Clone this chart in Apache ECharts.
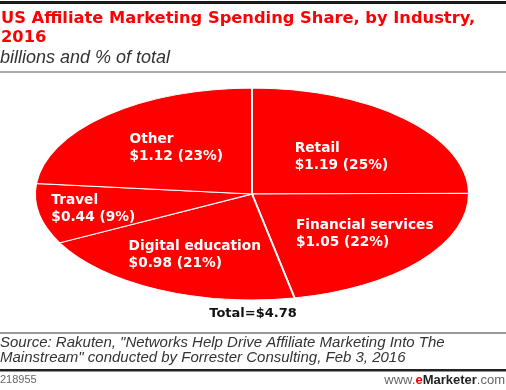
<!DOCTYPE html>
<html><head><meta charset="utf-8">
<script src="https://cdn.jsdelivr.net/npm/echarts@6/dist/echarts.min.js"></script>
<style>html,body{margin:0;padding:0;background:#fff}#c{width:506px;height:390px}</style>
</head><body><div id="c"></div>
<script>
const categories = ['Retail', 'Financial services', 'Digital education', 'Travel', 'Other'];
const values = [1.19, 1.05, 0.98, 0.44, 1.12];
const shares = [25, 22, 21, 9, 23];
const totalLabel = 'Total=$4.78';
const titleText = 'US Affiliate Marketing Spending Share, by Industry,\n2016';
const subtitleText = 'billions and % of total';
const sourceText = 'Source: Rakuten, "Networks Help Drive Affiliate Marketing Into The\nMainstream" conducted by Forrester Consulting, Feb 3, 2016';
const chartId = '218955';

// layout (not data): ellipse geometry and label placement as fractions of the radius along each slice's mid-angle
const CX = 252, CY = 194, RX = 217, RY = 106;
const labelFx = [0.585, 0.67, 0.61, 0.745, 0.52];
const labelFy = [0.49, 0.59, 0.64, 0.75, 0.59];
const LABEL_FONT = 'bold 13.7px "DejaVu Sans"';
const ctx = document.createElement('canvas').getContext('2d');
function measure(t, font) { ctx.font = font; return ctx.measureText(t).width; }

const sum = values.reduce((a, b) => a + b, 0);

function renderItem(params, api) {
  const i = params.dataIndex;
  let before = 0;
  for (let k = 0; k < i; k++) before += values[k];
  const v = api.value(1);
  const a0 = -Math.PI / 2 + 2 * Math.PI * before / sum;
  const a1 = a0 + 2 * Math.PI * v / sum;
  const mid = (a0 + a1) / 2;
  const lx = CX + RX * labelFx[i] * Math.cos(mid);
  const ly = CY + RY * labelFy[i] * Math.sin(mid);
  const l1 = categories[i];
  const l2 = '$' + values[i].toFixed(2) + ' (' + shares[i] + '%)';
  const w = Math.max(measure(l1, LABEL_FONT), measure(l2, LABEL_FONT));
  return {
    type: 'group',
    children: [
      {
        type: 'sector', x: CX, y: CY, scaleY: RY / RX,
        shape: { cx: 0, cy: 0, r0: 0, r: RX, startAngle: a0, endAngle: a1, clockwise: true },
        style: { fill: '#ff0000', stroke: '#ffffff', lineWidth: 2, strokeNoScale: true }
      },
      {
        type: 'text', x: lx - w / 2, y: ly, z2: 10,
        style: { text: l1 + '\n' + l2, fill: '#ffffff', font: LABEL_FONT, align: 'left', verticalAlign: 'middle', lineHeight: 17 }
      }
    ]
  };
}

const chart = echarts.init(document.getElementById('c'), null, { renderer: 'canvas' });
chart.setOption({
  animation: false,
  backgroundColor: '#ffffff',
  series: [{
    type: 'custom',
    coordinateSystem: 'none',
    renderItem: renderItem,
    data: values.map((v, i) => [i, v])
  }],
  graphic: [
    { type: 'rect', left: 0, top: 1, shape: { width: 506, height: 3 }, style: { fill: '#1a1a1a' } },
    { type: 'text', left: 1, top: 9, style: { text: titleText, fill: '#ff0000', font: 'bold 16.3px "DejaVu Sans"', lineHeight: 19.5 } },
    { type: 'text', left: 0, top: 49, style: { text: subtitleText, fill: '#333333', font: 'italic 18px "Liberation Sans"' } },
    { type: 'rect', left: 0, top: 71, shape: { width: 506, height: 2 }, style: { fill: '#aaaaaa' } },
    { type: 'text', left: 'center', top: 307, style: { text: totalLabel, fill: '#111111', font: 'bold 13px "DejaVu Sans"' } },
    { type: 'rect', left: 0, top: 332, shape: { width: 506, height: 2 }, style: { fill: '#999999' } },
    { type: 'text', left: 0, top: 335, style: { text: sourceText, fill: '#333333', font: 'italic 15px "Liberation Sans"', lineHeight: 15 } },
    { type: 'rect', left: 0, top: 369, shape: { width: 506, height: 2.5 }, style: { fill: '#222222' } },
    { type: 'text', left: 0, top: 374, style: { text: chartId, fill: '#666666', font: '11px "Liberation Sans"' } },
    { type: 'text', right: 1, top: 374, style: {
        text: '{a|www.}{b|e}{c|Marketer}{a|.com}',
        rich: {
          a: { fill: '#666666', font: '13px "Liberation Sans"' },
          b: { fill: '#ee0000', font: 'bold 13px "Liberation Sans"' },
          c: { fill: '#222222', font: 'bold 13px "Liberation Sans"' }
        } } }
  ]
});
</script></body></html>
